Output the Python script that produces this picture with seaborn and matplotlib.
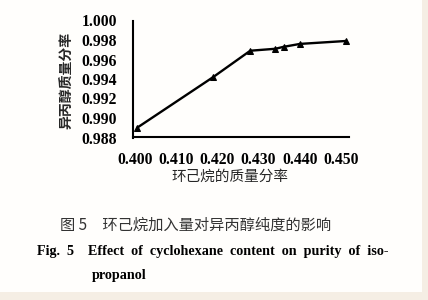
import matplotlib
matplotlib.use("Agg")
import matplotlib.pyplot as plt
import seaborn as sns
import pandas as pd
from matplotlib.patches import Rectangle

# data
cyclohexane = [0.4005, 0.4190, 0.4280, 0.4341, 0.4361, 0.4401, 0.4513]
purity = [0.9890, 0.9942, 0.9969, 0.9971, 0.9973, 0.9976, 0.9979]
xticks = [0.400, 0.410, 0.420, 0.430, 0.440, 0.450]
yticks = [0.988, 0.990, 0.992, 0.994, 0.996, 0.998, 1.000]
xlabel = "环己烷的质量分率"
ylabel = "异丙醇质量分率"
caption_cn = "图 5　环己烷加入量对异丙醇纯度的影响"
caption_en1 = "Fig.  5    Effect  of  cyclohexane  content  on  purity  of  iso-"
caption_en2 = "propanol"

sns.set_style("white")
plt.rcParams['font.family'] = ['Liberation Serif', 'Noto Sans CJK SC', 'DejaVu Sans']

df = pd.DataFrame({"x": cyclohexane, "y": purity})

fig = plt.figure(figsize=(4.28, 3.0), dpi=100)
fig.patch.set_facecolor("#FFFEFC")
ax = fig.add_axes([133/428, 1-137.5/300, (349-133)/428, (137.5-20.5)/300])
ax.set_facecolor("none")

sns.lineplot(data=df, x="x", y="y", ax=ax, sort=False, color="black",
             linewidth=1.7, marker="^", markersize=5, markeredgecolor="black")

ax.set_xlim(0.3995, 0.452)
ax.set_ylim(0.988, 1.000)
ax.set_xticks(xticks)
ax.set_yticks(yticks)
ax.set_xticklabels([f"{v:.3f}" for v in xticks], fontsize=11.3, fontweight="bold")
ax.set_yticklabels([f"{v:.3f}" for v in yticks], fontsize=11.3, fontweight="bold")
ax.tick_params(direction="in", length=4, width=1.2, colors="black")
ax.tick_params(axis="x", pad=10.5)
ax.tick_params(axis="y", pad=11.5)
sns.despine(ax=ax)
for s in ["left", "bottom"]:
    ax.spines[s].set_linewidth(1.5)
    ax.spines[s].set_color("black")

ax.set_xlabel("")
ax.set_ylabel("")
fig.text(230/428, 1-177/300, xlabel, ha="center", va="center", fontsize=10.5,
         family=['Noto Sans CJK SC'], fontweight="medium")
fig.text(67/428, 1-80/300, ylabel, ha="center", va="center", fontsize=10,
         rotation=90, family=['Noto Sans CJK SC'], fontweight="bold")

fig.text(60/428, 1-225/300, caption_cn, ha="left", va="center", fontsize=11,
         color="#333333", family=['Noto Sans CJK SC', 'DejaVu Sans'])
fig.text(37/428, 1-251/300, caption_en1, ha="left", va="center", fontsize=10.2,
         fontweight="bold", color="black", family=['Liberation Serif'])
fig.text(92/428, 1-276/300, caption_en2, ha="left", va="center", fontsize=10.2,
         fontweight="bold", color="black", family=['Liberation Serif'])

# scan border strips
fig.add_artist(Rectangle((422/428, 0), 6/428, 1, transform=fig.transFigure,
                         facecolor="#F5EEE4", edgecolor="none"))
fig.add_artist(Rectangle((0, 0), 1, 8/300, transform=fig.transFigure,
                         facecolor="#F5EEE4", edgecolor="none"))

fig.savefig("out.png", dpi=100, facecolor=fig.get_facecolor())
